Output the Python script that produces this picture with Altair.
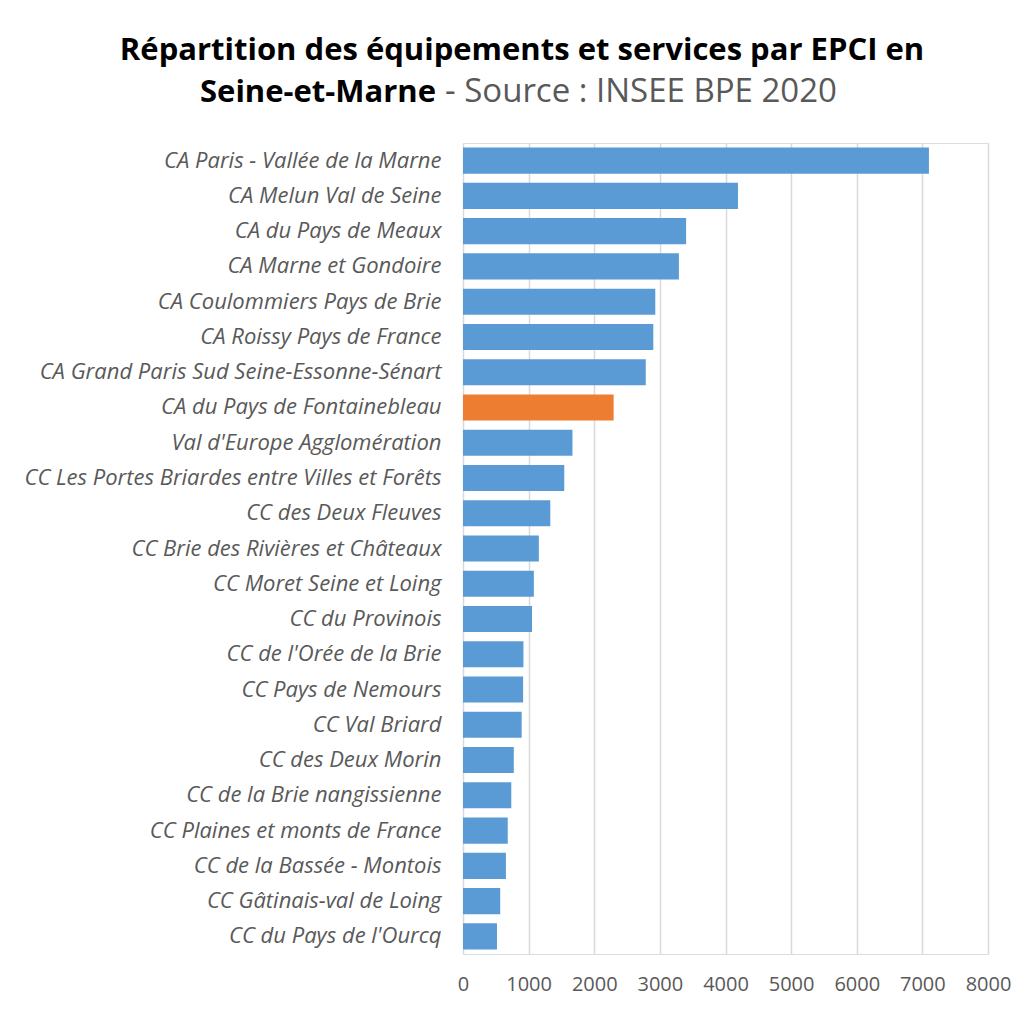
import altair as alt
import pandas as pd

names = [
    "CA Paris - Vallée de la Marne",
    "CA Melun Val de Seine",
    "CA du Pays de Meaux",
    "CA Marne et Gondoire",
    "CA Coulommiers Pays de Brie",
    "CA Roissy Pays de France",
    "CA Grand Paris Sud Seine-Essonne-Sénart",
    "CA du Pays de Fontainebleau",
    "Val d'Europe Agglomération",
    "CC Les Portes Briardes entre Villes et Forêts",
    "CC des Deux Fleuves",
    "CC Brie des Rivières et Châteaux",
    "CC Moret Seine et Loing",
    "CC du Provinois",
    "CC de l'Orée de la Brie",
    "CC Pays de Nemours",
    "CC Val Briard",
    "CC des Deux Morin",
    "CC de la Brie nangissienne",
    "CC Plaines et monts de France",
    "CC de la Bassée - Montois",
    "CC Gâtinais-val de Loing",
    "CC du Pays de l'Ourcq",
]
values = [7100, 4190, 3400, 3290, 2930, 2900, 2785, 2295, 1668, 1543, 1330, 1156,
          1080, 1052, 921, 916, 894, 774, 736, 682, 654, 567, 518]
highlight = "CA du Pays de Fontainebleau"
x_ticks = [0, 1000, 2000, 3000, 4000, 5000, 6000, 7000, 8000]

title_line1 = "Répartition des équipements et services par EPCI en"
title_bold2 = "Seine-et-Marne"
title_rest2 = "- Source : INSEE BPE 2020"

df = pd.DataFrame({"name": names, "value": values})

FONT = "Open Sans"

bars = alt.Chart(df).mark_bar().encode(
    y=alt.Y("name:N", sort=None, title=None,
            scale=alt.Scale(paddingInner=0.26, paddingOuter=0.13),
            axis=alt.Axis(labelFont=FONT, labelFontSize=22, labelFontStyle="italic",
                          labelColor="#595959", labelPadding=22, labelLimit=600,
                          ticks=False, domain=False)),
    x=alt.X("value:Q", title=None,
            scale=alt.Scale(domain=[0, 8000], nice=False),
            axis=alt.Axis(values=x_ticks, format="d", grid=True, gridColor="#d9d9d9", gridWidth=1.5,
                          domain=False, ticks=False, labelFont=FONT, labelFontSize=20,
                          labelColor="#595959", labelPadding=20, labelFlush=False)),
    color=alt.condition(alt.datum.name == highlight, alt.value("#ED7D31"), alt.value("#5B9BD5")),
)

t1 = alt.Chart(pd.DataFrame({"t": [title_line1]})).mark_text(
    font=FONT, fontSize=31, fontWeight="bold", color="#000000", align="center", baseline="alphabetic"
).encode(text="t:N", x=alt.value(59), y=alt.value(-83))

t2 = alt.Chart(pd.DataFrame({"t": [title_bold2]})).mark_text(
    font=FONT, fontSize=31, fontWeight="bold", color="#000000", align="right", baseline="alphabetic"
).encode(text="t:N", x=alt.value(-27), y=alt.value(-41))

t3 = alt.Chart(pd.DataFrame({"t": [title_rest2]})).mark_text(
    font=FONT, fontSize=33, fontWeight="normal", color="#595959", align="left", baseline="alphabetic"
).encode(text="t:N", x=alt.value(-18), y=alt.value(-41))

chart = alt.layer(bars, t1, t2, t3).properties(
    width=525, height=811,
    autosize=alt.AutoSizeParams(type="none"),
    padding={"left": 455, "top": 135, "right": 37, "bottom": 50},
).configure_view(stroke=None).configure(background="white")

chart.save("out.html", embed_options={"renderer": "svg", "actions": False})
